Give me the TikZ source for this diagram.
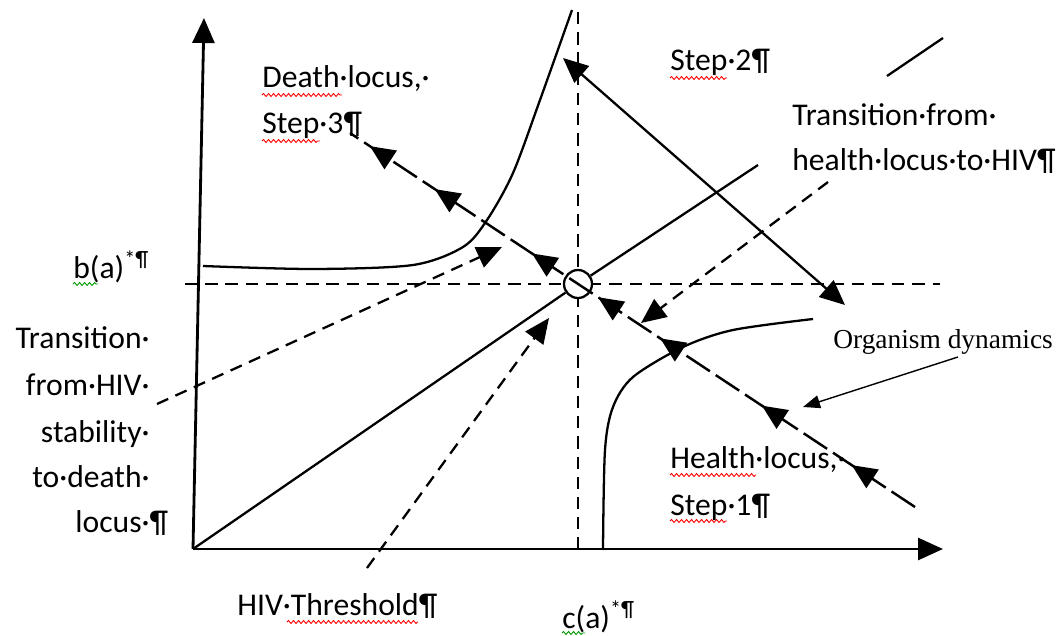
\documentclass[tikz,border=0pt]{standalone}
\usepackage{fontspec}
\setmainfont{Carlito}
\newfontfamily\timesfont{Liberation Serif}
\usetikzlibrary{arrows.meta,decorations.markings,decorations.pathmorphing}

\tikzset{
  bigtip/.tip={Triangle[length=0.5cm,width=0.44cm]},
  smalltip/.tip={Triangle[length=0.34cm,width=0.26cm]},
  axis/.style={line width=1.6pt},
  curve/.style={line width=1.3pt},
  guide/.style={line width=1.3pt, dash pattern=on 7pt off 4.5pt},
  trans/.style={guide, -bigtip},
  dyn/.style={line width=1.4pt, dash pattern=on 16pt off 4pt},
  word/.style={inner sep=0pt, anchor=base west, font=\fontsize{18}{22}\selectfont},
  wordr/.style={word, anchor=base east},
  spell/.style={red, line width=0.5pt, decorate, decoration={snake, amplitude=0.03cm, segment length=0.1cm}},
  gspell/.style={spell, green!60!black},
}

\begin{document}
\begin{tikzpicture}[x=0.02cm,y=-0.02cm]
\useasboundingbox (0,0) rectangle (1063,636);

% axes
\coordinate (O) at (193,549);
\coordinate (ytop) at (204,18);
\coordinate (xend) at (943,549);
\draw[axis,-bigtip] (O) -- (ytop);
\draw[axis,-bigtip] (O) -- (xend);

% b(a)* and c(a)* guides
\coordinate (bL) at (185,284);
\coordinate (bR) at (940,284);
\coordinate (cT) at (578,12);
\coordinate (cB) at (578,549);
\draw[guide] (bL) -- (bR);
\draw[guide] (cT) -- (cB);

% equilibrium
\node (eq) at (578,284) [circle, draw, fill=white, line width=1.3pt, minimum size=0.56cm, inner sep=0pt] {};

% HIV line
\coordinate (diagE) at (758,165);
\draw[curve] (O) -- (eq);
\draw[curve] (eq) -- (diagE);
\coordinate (topA) at (887,76);
\coordinate (topB) at (943,38);
\draw[curve] (topA) -- (topB);

% loci
\draw[curve] plot[smooth] coordinates {(203,266) (313,269) (413,265) (463,247) (487,220) (513,173) (540,100) (572,10)};
\draw[curve] plot[smooth] coordinates {(603,550) (605,450) (613,407) (633,377) (683,347) (733,330) (813,319)};

% step 2
\coordinate (s2a) at (845,305);
\coordinate (s2b) at (563,58);
\draw[curve,bigtip-bigtip] (s2a) -- (s2b);

% transitions
\coordinate (thS) at (828,182);
\coordinate (thE) at (641,323);
\draw[trans] (thS) -- (thE);
\coordinate (tdS) at (157,404);
\coordinate (tdE) at (502,247);
\draw[trans] (tdS) -- (tdE);
\coordinate (trS) at (367,568);
\coordinate (trE) at (549,318);
\draw[trans] (trS) -- (trE);

% organism dynamics
\coordinate (dynS) at (915,507);
\coordinate (dynE) at (350,133);
\draw[dyn, postaction={decorate, decoration={markings,
  mark=at position 0.112 with {\arrow{bigtip}},
  mark=at position 0.271 with {\arrow{bigtip}},
  mark=at position 0.451 with {\arrow{bigtip}},
  mark=at position 0.561 with {\arrow{bigtip}},
  mark=at position 0.678 with {\arrow{bigtip}},
  mark=at position 0.850 with {\arrow{bigtip}},
  mark=at position 0.965 with {\arrow{bigtip}}}}] (dynS) -- (dynE);

% labels
\node (death1) at (262,87) [word] {Death·locus,·};
\node (death2) at (262,133) [word] {Step·3¶};
\node (step2) at (670,70) [word] {Step·2¶};
\node (hiv1) at (792,125) [word] {Transition·from·};
\node (hiv2) at (792,170) [word] {health·locus·to·HIV¶};
\node (bstar) at (73,278) [word] {b(a)\textsuperscript{*¶}};
\node (td1) at (150,348) [wordr] {Transition·};
\node (td2) at (150,395) [wordr] {from·HIV·};
\node (td3) at (150,442) [wordr] {stability·};
\node (td4) at (150,487) [wordr] {to·death·};
\node (td5) at (150,532) [wordr] {locus·\rlap{¶}};
\node (thr) at (237,615) [word] {HIV·Threshold¶};
\node (cstar) at (562,628) [word] {c(a)\textsuperscript{*¶}};
\node (health1) at (670,468) [word] {Health·locus,·};
\node (health2) at (670,515) [word] {Step·1¶};
\node (org) at (833,348) [word, font=\timesfont\fontsize{15.6}{18}\selectfont] {Organism dynamics};
\coordinate (orgA) at (958,357);
\coordinate (orgB) at (803,407);
\draw[line width=0.8pt, -smalltip] (orgA) -- (orgB);

% spelling marks
\draw[spell] (262,95) -- (342,95);
\draw[spell] (262,141) -- (320,141);
\draw[spell] (670,78) -- (727,78);
\draw[spell] (670,475) -- (756,475);
\draw[spell] (670,521) -- (727,521);
\draw[spell] (287,622) -- (418,622);
\draw[gspell] (73,284) -- (98,284);
\draw[gspell] (562,633) -- (585,633);
\end{tikzpicture}
\end{document}
